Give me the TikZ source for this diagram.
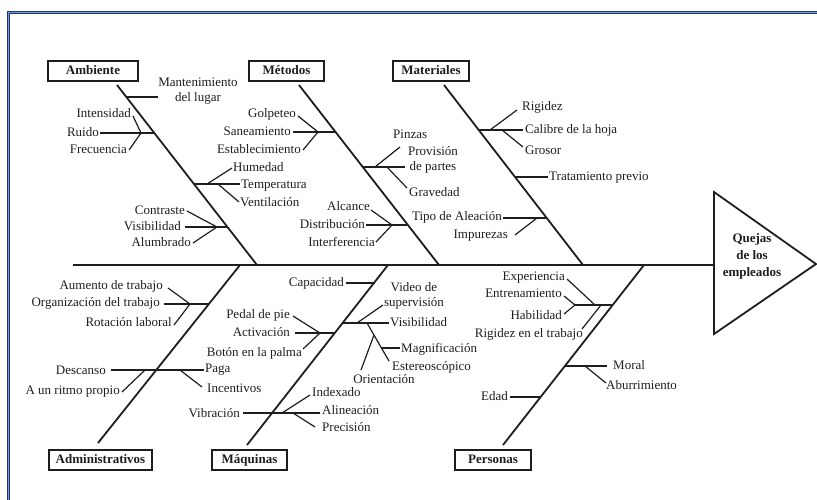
\documentclass[tikz,border=0pt]{standalone}
\usepackage{fontspec}
\setmainfont{Liberation Serif}
\usetikzlibrary{calc}
\definecolor{ink}{RGB}{30,30,30}
\definecolor{framedark}{RGB}{30,56,118}
\definecolor{framelight}{RGB}{120,155,210}
\tikzset{
  bone/.style={draw=ink,line width=1.8pt},
  rib/.style={draw=ink,line width=1.2pt},
  lbl/.style={text=ink,font=\fontsize{13}{14.5}\selectfont,inner sep=0pt,text height=9pt,text depth=3pt},
  lblL/.style={lbl,anchor=east},
  lblR/.style={lbl,anchor=west},
  twoline/.style={text=ink,font=\fontsize{13}{14.5}\selectfont,inner sep=0pt,align=center},
  cat/.style={draw=ink,line width=1.6pt,font=\fontsize{13}{15}\selectfont\bfseries,text=ink,
              minimum height=20pt,inner sep=0pt,text height=9pt,text depth=3pt},
}
\begin{document}
\begin{tikzpicture}[x=1pt,y=-1pt]
\useasboundingbox (0,0) rectangle (817,499);

% outer frame
\draw[framedark,line width=3pt] (8,12) rectangle (840,530);
\draw[framelight,line width=0.8pt] (8,12) rectangle (840,530);

% spine and head
\coordinate (tail) at (73,265);
\coordinate (headL) at (714,265);
\coordinate (headT) at (714,192);
\coordinate (headB) at (714,334);
\coordinate (headP) at (816,264);
\draw[bone] (tail) -- (headL);
\draw[bone] (headT) -- (headP) -- (headB) -- cycle;
\node[twoline,font=\fontsize{13}{17}\selectfont\bfseries] (effect) at (752,256) {Quejas\\de los\\empleados};

% category boxes
\node[cat,minimum width=90pt] (ambbox) at (93,71) {Ambiente};
\node[cat,minimum width=75pt] (metbox) at (286.5,71) {Métodos};
\node[cat,minimum width=76pt] (matbox) at (431,71) {Materiales};
\node[cat,minimum width=103pt] (admbox) at (100.5,460) {Administrativos};
\node[cat,minimum width=75pt] (maqbox) at (249.5,460) {Máquinas};
\node[cat,minimum width=76pt] (perbox) at (493,460) {Personas};

% main bones
\coordinate (amb1) at (117,85);  \coordinate (amb2) at (257,265);
\coordinate (met1) at (299,85);  \coordinate (met2) at (439,265);
\coordinate (mat1) at (444,85);  \coordinate (mat2) at (583,265);
\coordinate (adm1) at (98,443);  \coordinate (adm2) at (240,265);
\coordinate (maq1) at (247,445); \coordinate (maq2) at (388,265);
\coordinate (per1) at (503,445); \coordinate (per2) at (644,265);
\foreach \a in {amb,met,mat,adm,maq,per} \draw[bone] (\a1) -- (\a2);

% ---- Ambiente ----
\draw[rib] (126,97) -- (158,97);
\node[twoline] (mant) at (198,91) {Mantenimiento\\del lugar};

\draw[rib] (100,133) -- (154,133);
\draw[rib] (133,116) -- (141,133) -- (129,150);
\node[lblL] (intens) at (131,114) {Intensidad};
\node[lblL] (ruido) at (99,133) {Ruido};
\node[lblL] (frec) at (127,150) {Frecuencia};

\draw[rib] (194,184) -- (240,184);
\draw[rib] (207,184) -- (232,168);
\draw[rib] (218,184) -- (239,202);
\node[lblR] (humed) at (233,168) {Humedad};
\node[lblR] (temp) at (241,185) {Temperatura};
\node[lblR] (vent) at (240,203) {Ventilación};

\draw[rib] (185,227) -- (227,227);
\draw[rib] (187,211) -- (217,227) -- (193,243);
\node[lblL] (contr) at (185,211) {Contraste};
\node[lblL] (visib) at (181,227) {Visibilidad};
\node[lblL] (alumb) at (191,243) {Alumbrado};

% ---- Métodos ----
\draw[rib] (293,132) -- (335,132);
\draw[rib] (298,116) -- (318,132) -- (303,150);
\node[lblL] (golp) at (296,114) {Golpeteo};
\node[lblL] (sanea) at (291,132) {Saneamiento};
\node[lblL] (estab) at (301,150) {Establecimiento};

\draw[rib] (362,167) -- (405,167);
\draw[rib] (375,167) -- (400,147);
\draw[rib] (387,167) -- (407,188);
\node[lblR] (pinz) at (393,135) {Pinzas};
\node[twoline] (provi) at (433,160) {Provisión\\de partes};
\node[lblR] (grav) at (409,193) {Gravedad};

\draw[rib] (366,225) -- (407,225);
\draw[rib] (371,210) -- (392,225) -- (376,242);
\node[lblL] (alcan) at (370,207) {Alcance};
\node[lblL] (distr) at (365,225) {Distribución};
\node[lblL] (interf) at (375,243) {Interferencia};

% ---- Materiales ----
\draw[rib] (479,130) -- (523,130);
\draw[rib] (490,130) -- (517,110);
\draw[rib] (502,130) -- (523,147);
\node[lblR] (rigid) at (522,107) {Rigidez};
\node[lblR] (calib) at (525,130) {Calibre de la hoja};
\node[lblR] (gros) at (525,151) {Grosor};

\draw[rib] (515,177) -- (548,177);
\node[lblR] (trat) at (549,177) {Tratamiento previo};

\draw[rib] (503,218) -- (546,218);
\draw[rib] (515,235) -- (537,218);
\node[lblL] (tipo) at (502,217) {Tipo de Aleación};
\node[lblL] (impur) at (508,235) {Impurezas};

% ---- Administrativos ----
\draw[rib] (164,304) -- (209,304);
\draw[rib] (168,288) -- (190,304) -- (174,325);
\node[lblL] (aum) at (163,286) {Aumento de trabajo};
\node[lblL] (organ) at (160,303) {Organización del trabajo};
\node[lblL] (rotac) at (172,323) {Rotación laboral};

\draw[rib] (111,370) -- (204,370);
\draw[rib] (122,392) -- (145,370);
\draw[rib] (180,370) -- (202,387);
\node[lblL] (desc) at (106,371) {Descanso};
\node[lblL] (ritmo) at (120,391) {A un ritmo propio};
\node[lblR] (paga) at (205,369) {Paga};
\node[lblR] (incent) at (207,389) {Incentivos};

% ---- Máquinas ----
\draw[rib] (346,283) -- (375,283);
\node[lblL] (capac) at (344,283) {Capacidad};

\draw[rib] (343,323) -- (389,323);
\draw[rib] (357,323) -- (383,305);
\draw[rib] (367,323) -- (389,361);
\draw[rib] (381,348) -- (400,348);
\draw[rib] (374,335) -- (361,370);
\node[twoline] (video) at (414,296) {Video de\\supervisión};
\node[lblR] (visib2) at (390,323) {Visibilidad};
\node[lblR] (magn) at (401,349) {Magnificación};
\node[lblR] (ester) at (392,367) {Estereoscópico};
\node[lbl] (orient) at (384,380) {Orientación};

\draw[rib] (295,333) -- (335,333);
\draw[rib] (293,316) -- (320,333) -- (303,349);
\node[lblL] (pedal) at (290,315) {Pedal de pie};
\node[lblL] (activ) at (290,333) {Activación};
\node[lblL] (boton) at (302,353) {Botón en la palma};

\draw[rib] (243,413) -- (320,413);
\draw[rib] (282,413) -- (310,395);
\draw[rib] (293,413) -- (315,427);
\node[lblL] (vibr) at (240,414) {Vibración};
\node[lblR] (index) at (312,393) {Indexado};
\node[lblR] (aline) at (322,411) {Alineación};
\node[lblR] (precis) at (322,428) {Precisión};

% ---- Personas ----
\draw[rib] (574,305) -- (613,305);
\draw[rib] (567,279) -- (595,305);
\draw[rib] (564,296) -- (575,305) -- (564,314);
\draw[rib] (582,329) -- (601,305);
\node[lblL] (exper) at (565,277) {Experiencia};
\node[lblL] (entren) at (562,294) {Entrenamiento};
\node[lblL] (habil) at (562,316) {Habilidad};
\node[lblL] (rigtrab) at (583,334) {Rigidez en el trabajo};

\draw[rib] (565,366) -- (607,366);
\draw[rib] (585,366) -- (606,383);
\node[lblR] (moral) at (613,366) {Moral};
\node[lblR] (aburr) at (606,386) {Aburrimiento};

\draw[rib] (510,397) -- (541,397);
\node[lblL] (edad) at (508,397) {Edad};
\end{tikzpicture}
\end{document}
